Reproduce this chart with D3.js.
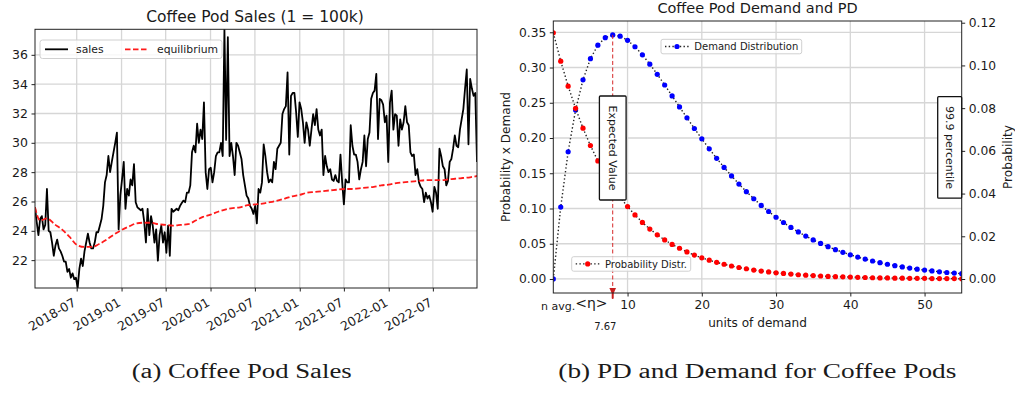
<!DOCTYPE html>
<html>
<head>
<meta charset="utf-8">
<script src="https://cdn.jsdelivr.net/npm/d3@7"></script>
<style>
  body { margin: 0; background: #fff; }
  svg text { font-family: "DejaVu Sans", sans-serif; fill: #1a1a1a; }
</style>
</head>
<body>
<svg id="chart" width="1015" height="393"></svg>
<script>
// ---- (a) weekly coffee pod sales, 1 = 100k ----
const salesStart = new Date(2018, 0, 11);
const sales = [
  25.6, 24.6, 23.7, 24.8, 25.0, 24.1, 24.4, 26.85, 24.0, 23.9,
  23.2, 22.3, 23.0, 23.4, 22.8, 22.6, 22.3, 21.9, 21.9, 21.2,
  21.4, 20.8, 21.1, 20.7, 20.8, 20.1, 21.4, 22.1, 21.6, 22.6,
  23.2, 23.8, 23.2, 22.8, 22.8, 23.2, 23.9, 23.9, 24.35, 24.8,
  25.7, 27.3, 27.8, 29.1, 28.0, 28.7, 29.35, 30.0, 30.7, 24.1,
  26.4, 27.5, 28.7, 25.5, 26.85, 26.4, 27.5, 27.1, 28.55, 25.95,
  25.6, 25.5, 25.4, 25.5,
  24.6, 23.2, 25.5, 23.7, 25.0, 24.35, 23.2, 24.1, 21.96, 23.7,
  24.35, 23.2, 23.9, 22.5, 24.35, 22.3, 25.5, 25.3, 25.4, 25.5,
  25.4, 25.7, 25.9, 26.06, 25.95, 26.6, 26.6, 27.1, 29.35, 29.8,
  29.35, 31.3, 30.0, 30.9, 30.26, 32.76, 28.0, 26.85, 28.2, 28.3,
  27.3, 28.0, 29.1, 29.35, 29.35, 30.0, 29.1, 37.74, 30.2, 37.2,
  29.1, 30.0, 29.1, 27.8, 30.0, 29.8, 29.35, 28.9, 27.8, 27.1,
  26.4, 26.2, 25.7, 25.5, 25.15,
  25.7, 24.5, 26.85, 26.6, 27.3, 29.9, 29.1, 28.0, 27.3, 27.5,
  27.3, 28.7, 28.2, 29.6, 29.8, 30.0, 31.96, 32.3, 32.5, 34.8,
  29.2, 33.2, 33.4, 33.4, 32.1, 30.4, 32.76, 32.3, 31.4, 30.0,
  31.4, 30.9, 29.8, 30.9, 31.96, 31.2, 32.3, 30.9, 30.5, 30.9,
  27.8, 29.1, 28.4, 28.0, 28.2, 27.5, 27.4, 27.8, 27.4, 27.3,
  29.2, 27.3, 25.8, 27.5, 27.3, 27.3, 31.2, 29.8, 29.2, 29.2,
  28.7, 27.5, 28.2, 28.7,
  30.5, 28.4, 30.26, 30.7, 33.0, 33.4, 33.56, 34.7, 30.26, 33.0,
  32.9, 32.6, 31.4, 31.85, 28.7, 32.76, 33.56, 30.9, 31.96, 31.85,
  29.8, 31.6, 30.9, 31.4, 32.5, 31.4, 31.2, 29.35, 29.1, 29.2,
  27.8, 28.2, 27.3, 27.0, 26.85, 25.95, 26.6, 26.2, 26.4, 25.95,
  25.3, 27.0, 26.6, 25.5, 29.6, 29.1, 28.4, 28.2, 27.1, 27.4,
  28.7, 28.9, 29.6, 30.5, 29.8, 29.7, 30.9, 31.6, 32.3, 33.7,
  35.0, 29.9, 34.35, 33.7, 33.2, 33.4, 28.7
];
// equilibrium: start point, then 1st of each month Feb 2018 .. Jan 2023
const equilibrium = [
  25.6,
  24.7, 24.85, 24.45, 24.1, 23.6, 23.05, 22.9, 22.9, 23.1, 23.4, 23.75,
  24.05, 24.3, 24.5, 24.55, 24.55, 24.45, 24.4, 24.35, 24.4, 24.45, 24.7, 24.95,
  25.1, 25.3, 25.45, 25.55, 25.6, 25.75, 25.8, 25.85, 25.95, 26.05, 26.2, 26.35,
  26.45, 26.6, 26.65, 26.7, 26.75, 26.8, 26.85, 26.85, 26.9, 26.95, 27.0, 27.1,
  27.15, 27.25, 27.3, 27.35, 27.4, 27.45, 27.45, 27.45, 27.5, 27.55, 27.6, 27.65,
  27.75
];
const salesYTicks = [22, 24, 26, 28, 30, 32, 34, 36];

// ---- (b) demand / probability distribution ----
const units = d3.range(56);
const probDistr = [
  0.1153, 0.1020, 0.0903, 0.0799, 0.0706, 0.0625, 0.0553, 0.0489, 0.0433, 0.0383,
  0.0339, 0.0300, 0.0265, 0.0234, 0.0207, 0.0183, 0.0162, 0.0144, 0.0127, 0.0112,
  0.0099, 0.0088, 0.0078, 0.0069, 0.0061, 0.0054, 0.0048, 0.0042, 0.0037, 0.0033,
  0.0029, 0.0026, 0.0023, 0.0020, 0.0018, 0.0016, 0.0014, 0.0012, 0.0011, 0.0010,
  0.0009, 0.0008, 0.0007, 0.0006, 0.0005, 0.0005, 0.0004, 0.0004, 0.0003, 0.0003,
  0.0003, 0.0002, 0.0002, 0.0002, 0.0002, 0.0001
];
const demandDistr = [
  0, 0.1020, 0.1805, 0.2396, 0.2826, 0.3125, 0.3317, 0.3424, 0.3462, 0.3445,
  0.3386, 0.3295, 0.3180, 0.3048, 0.2904, 0.2752, 0.2597, 0.2441, 0.2287, 0.2135,
  0.1989, 0.1847, 0.1712, 0.1583, 0.1462, 0.1347, 0.1239, 0.1138, 0.1044, 0.0957,
  0.0876, 0.0801, 0.0731, 0.0667, 0.0608, 0.0554, 0.0504, 0.0458, 0.0416, 0.0378,
  0.0343, 0.0311, 0.0282, 0.0255, 0.0231, 0.0209, 0.0189, 0.0171, 0.0154, 0.0139,
  0.0126, 0.0114, 0.0102, 0.0092, 0.0083, 0.0075
];
const expectedValue = 7.67;
const demandXTicks = [10, 20, 30, 40, 50];
const demandYTicks = [0, 0.05, 0.10, 0.15, 0.20, 0.25, 0.30, 0.35];
const probYTicks = [0, 0.02, 0.04, 0.06, 0.08, 0.10, 0.12];

const svg = d3.select("#chart");
svg.append("rect").attr("width", 1015).attr("height", 393).attr("fill", "#fff");
const defs = svg.append("defs");
const gridColor = "#d6d6d6";

function styleAxis(g, size) {
  g.select(".domain").remove();
  g.selectAll(".tick line").attr("stroke", "#222");
  g.selectAll(".tick text").attr("font-size", size).attr("fill", "#1a1a1a");
}

// ================= (a) =================
const A = { left: 35, right: 477, top: 29.3, bottom: 288 };
const salesDates = sales.map((_, i) => d3.timeWeek.offset(salesStart, i));
const eqDates = [salesStart].concat(d3.timeMonth.range(new Date(2018, 1, 1), new Date(2023, 0, 2)));

const xa = d3.scaleTime().domain(d3.extent(salesDates)).range([A.left, A.right]);
const ya = d3.scaleLinear().domain(d3.extent(sales)).range([A.bottom, A.top]);
const monthTicks = xa.ticks(d3.timeMonth.every(6));

defs.append("clipPath").attr("id", "clipA").append("rect")
  .attr("x", A.left).attr("y", A.top).attr("width", A.right - A.left).attr("height", A.bottom - A.top);

const ga = svg.append("g");
ga.append("g").selectAll("line").data(monthTicks).join("line")
  .attr("x1", d => xa(d)).attr("x2", d => xa(d)).attr("y1", A.top).attr("y2", A.bottom)
  .attr("stroke", gridColor).attr("stroke-width", 1.3);
ga.append("g").selectAll("line").data(salesYTicks).join("line")
  .attr("x1", A.left).attr("x2", A.right).attr("y1", d => ya(d)).attr("y2", d => ya(d))
  .attr("stroke", gridColor).attr("stroke-width", 1.3);

const plotA = ga.append("g").attr("clip-path", "url(#clipA)");
plotA.append("path").datum(sales)
  .attr("fill", "none").attr("stroke", "#000").attr("stroke-width", 1.8).attr("stroke-linejoin", "round")
  .attr("d", d3.line().x((d, i) => xa(salesDates[i])).y(d => ya(d)));
plotA.append("path").datum(equilibrium)
  .attr("fill", "none").attr("stroke", "#ff1a1a").attr("stroke-width", 1.8).attr("stroke-dasharray", "5.5,2.5")
  .attr("d", d3.line().curve(d3.curveMonotoneX).x((d, i) => xa(eqDates[i])).y(d => ya(d)));

ga.append("rect").attr("x", A.left).attr("y", A.top).attr("width", A.right - A.left).attr("height", A.bottom - A.top)
  .attr("fill", "none").attr("stroke", "#222").attr("stroke-width", 1);

ga.append("g").attr("transform", `translate(${A.left},0)`)
  .call(d3.axisLeft(ya).tickValues(salesYTicks).tickSize(3.5).tickPadding(3.5))
  .call(g => styleAxis(g, 12.5));

ga.append("g").attr("transform", `translate(0,${A.bottom})`)
  .call(d3.axisBottom(xa).tickValues(monthTicks).tickFormat(d3.timeFormat("%Y-%m")).tickSize(3.5))
  .call(g => styleAxis(g, 12.5))
  .call(g => g.selectAll(".tick text")
    .attr("text-anchor", "end").attr("x", 0).attr("y", 0).attr("dy", "0.75em")
    .attr("transform", "translate(-5,9) rotate(-30)"));

ga.append("text").attr("x", 255).attr("y", 21.5).attr("text-anchor", "middle")
  .attr("font-size", 15.5).text("Coffee Pod Sales (1 = 100k)");

// legend
const la = ga.append("g");
la.append("rect").attr("x", 40).attr("y", 40).attr("width", 182).attr("height", 18.5).attr("rx", 2.5)
  .attr("fill", "#fff").attr("fill-opacity", 0.8).attr("stroke", "#d0d0d0");
la.append("line").attr("x1", 45).attr("x2", 68).attr("y1", 49.3).attr("y2", 49.3)
  .attr("stroke", "#000").attr("stroke-width", 1.8);
la.append("text").attr("x", 76).attr("y", 53).attr("font-size", 10.8).text("sales");
la.append("line").attr("x1", 125).attr("x2", 148).attr("y1", 49.3).attr("y2", 49.3)
  .attr("stroke", "#ff1a1a").attr("stroke-width", 1.8).attr("stroke-dasharray", "5.5,2.5");
la.append("text").attr("x", 157).attr("y", 53).attr("font-size", 10.8).text("equilibrium");

svg.append("text").attr("x", 241.7).attr("y", 378).attr("text-anchor", "middle")
  .style("font-family", "'Liberation Serif', serif")
  .attr("font-size", 20).attr("textLength", 220).attr("lengthAdjust", "spacingAndGlyphs")
  .text("(a) Coffee Pod Sales");

// ================= (b) =================
const B = { left: 553.3, right: 961.7, top: 21, bottom: 293 };
const xb = d3.scaleLinear().domain([0, 55]).range([B.left, B.right]);
const yDem = d3.scaleLinear().domain([-0.0199, 0.366]).range([B.bottom, B.top]);
const yProb = d3.scaleLinear().domain([-0.00655, 0.1208]).range([B.bottom, B.top]);

defs.append("clipPath").attr("id", "clipB").append("rect")
  .attr("x", B.left).attr("y", B.top).attr("width", B.right - B.left).attr("height", B.bottom - B.top);

const gb = svg.append("g");
gb.append("g").selectAll("line").data(demandXTicks).join("line")
  .attr("x1", d => xb(d)).attr("x2", d => xb(d)).attr("y1", B.top).attr("y2", B.bottom)
  .attr("stroke", gridColor).attr("stroke-width", 1.3);
gb.append("g").selectAll("line").data(demandYTicks).join("line")
  .attr("x1", B.left).attr("x2", B.right).attr("y1", d => yDem(d)).attr("y2", d => yDem(d))
  .attr("stroke", gridColor).attr("stroke-width", 1.3);

const plotB = gb.append("g").attr("clip-path", "url(#clipB)");
function dottedSeries(values, yScale, colour) {
  plotB.append("path").datum(values)
    .attr("fill", "none").attr("stroke", "#222").attr("stroke-width", 1.4).attr("stroke-dasharray", "1.4,2.3")
    .attr("d", d3.line().x((d, i) => xb(units[i])).y(d => yScale(d)));
  plotB.append("g").selectAll("circle").data(values).join("circle")
    .attr("cx", (d, i) => xb(units[i])).attr("cy", d => yScale(d)).attr("r", 2.6)
    .attr("fill", colour);
}
dottedSeries(demandDistr, yDem, "#0000ff");
dottedSeries(probDistr, yProb, "#ff0000");

// expected value marker (drawn at the nearest whole unit)
const evUnit = Math.round(expectedValue);
const evX = xb(evUnit);
gb.append("line").attr("x1", evX).attr("x2", evX).attr("y1", yDem(demandDistr[evUnit])).attr("y2", 289)
  .attr("stroke", "#d62728").attr("stroke-width", 1).attr("stroke-dasharray", "4,2.5");
gb.append("path").attr("d", `M${evX - 3.3},288 L${evX + 3.3},288 L${evX},295.5 Z`).attr("fill", "#c81e1e");
gb.append("line").attr("x1", evX).attr("x2", evX).attr("y1", 294).attr("y2", 298)
  .attr("stroke", "#c81e1e").attr("stroke-width", 2).attr("stroke-linecap", "round");

gb.append("rect").attr("x", B.left).attr("y", B.top).attr("width", B.right - B.left).attr("height", B.bottom - B.top)
  .attr("fill", "none").attr("stroke", "#222").attr("stroke-width", 1);

gb.append("g").attr("transform", `translate(${B.left},0)`)
  .call(d3.axisLeft(yDem).tickValues(demandYTicks).tickFormat(d3.format(".2f")).tickSize(3.5).tickPadding(3.5))
  .call(g => styleAxis(g, 12.3));
gb.append("g").attr("transform", `translate(${B.right},0)`)
  .call(d3.axisRight(yProb).tickValues(probYTicks).tickFormat(d3.format(".2f")).tickSize(3.5).tickPadding(3.5))
  .call(g => styleAxis(g, 12.3));
gb.append("g").attr("transform", `translate(0,${B.bottom})`)
  .call(d3.axisBottom(xb).tickValues(demandXTicks).tickSize(3.5).tickPadding(3.5))
  .call(g => styleAxis(g, 12.3));

// boxes with rotated labels
function vBox(x, y, w, h, label) {
  gb.append("rect").attr("x", x).attr("y", y).attr("width", w).attr("height", h).attr("rx", 1)
    .attr("fill", "#fff").attr("stroke", "#111").attr("stroke-width", 1.3);
  gb.append("text").attr("transform", `translate(${x + w / 2},${y + h / 2}) rotate(90)`)
    .attr("text-anchor", "middle").attr("dy", "0.35em").attr("font-size", 11).text(label);
}
vBox(evX - 13.3, 96, 26.7, 104, "Expected Value");
vBox(937.7, 96.7, 24, 101.5, "99.9 percentile");

// legends
function legend(x, y, w, colour, label) {
  const g = gb.append("g");
  g.append("rect").attr("x", x).attr("y", y).attr("width", w).attr("height", 14.5).attr("rx", 2)
    .attr("fill", "#fff").attr("fill-opacity", 0.8).attr("stroke", "#d0d0d0");
  g.append("line").attr("x1", x + 4).attr("x2", x + 28).attr("y1", y + 7.2).attr("y2", y + 7.2)
    .attr("stroke", "#222").attr("stroke-width", 1.4).attr("stroke-dasharray", "1.4,2.3");
  g.append("circle").attr("cx", x + 16).attr("cy", y + 7.2).attr("r", 2.6).attr("fill", colour);
  g.append("text").attr("x", x + 33.3).attr("y", y + 10.8).attr("font-size", 10).text(label);
}
legend(661, 39.3, 140.7, "#0000ff", "Demand Distribution");
legend(571.7, 256.7, 119, "#ff0000", "Probability Distr.");

// titles and axis labels
gb.append("text").attr("x", 757.5).attr("y", 13).attr("text-anchor", "middle")
  .attr("font-size", 14.5).text("Coffee Pod Demand and PD");
gb.append("text").attr("x", 757.5).attr("y", 326.5).attr("text-anchor", "middle")
  .attr("font-size", 12.1).text("units of demand");
gb.append("text").attr("transform", "translate(510,157) rotate(-90)").attr("text-anchor", "middle")
  .attr("font-size", 12.1).text("Probability x Demand");
gb.append("text").attr("transform", "translate(1012,157) rotate(-90)").attr("text-anchor", "middle")
  .attr("font-size", 12.1).text("Probability");

const nAvg = gb.append("text").attr("x", 541).attr("y", 309.5);
nAvg.append("tspan").attr("font-size", 11).text("n avg.");
nAvg.append("tspan").attr("font-size", 14).attr("dy", -1.5).text("<η>");
gb.append("text").attr("x", 605.3).attr("y", 329.5).attr("text-anchor", "middle")
  .attr("font-size", 10).text(d3.format(".2f")(expectedValue));

svg.append("text").attr("x", 757.3).attr("y", 378).attr("text-anchor", "middle")
  .style("font-family", "'Liberation Serif', serif")
  .attr("font-size", 20).attr("textLength", 398).attr("lengthAdjust", "spacingAndGlyphs")
  .text("(b) PD and Demand for Coffee Pods");
</script>
</body>
</html>
